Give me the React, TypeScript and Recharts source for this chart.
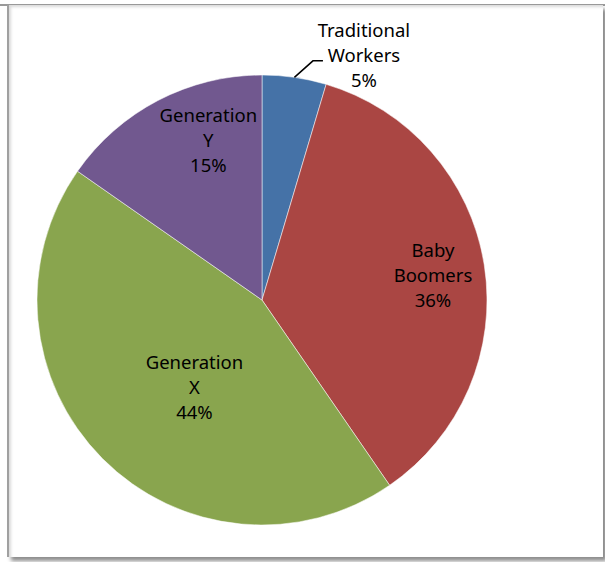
import { Cell, Pie, PieChart } from "recharts";

// Workforce share by generation (labels show the rounded percentage)
const categories = ["Traditional Workers", "Baby Boomers", "Generation X", "Generation Y"];
const shares = [4.6, 35.8, 44.3, 15.3];
const colors = ["#4572A7", "#AA4643", "#89A54E", "#71588F"];

// where each label sits, relative to its slice: angle nudge (deg) and radius fraction
const labelNudge = [-14.3, -0.7, 7.4, -9];
const labelRadius = [1.18, 0.768, 0.49, 0.75];

const data = categories.map((name, i) => ({ name, value: shares[i] }));

const RAD = Math.PI / 180;
const LINE_H = 25;

interface LabelProps {
  cx?: number;
  cy?: number;
  midAngle?: number;
  outerRadius?: number;
  index?: number;
  name?: string;
  percent?: number;
}

function SliceLabel({ cx = 0, cy = 0, midAngle = 0, outerRadius = 0, index = 0, name = "", percent = 0 }: LabelProps) {
  const a = midAngle + labelNudge[index];
  const r = outerRadius * labelRadius[index];
  const x = cx + Math.cos(-a * RAD) * r;
  const y = cy + Math.sin(-a * RAD) * r;
  const lines = [...name.split(" "), `${Math.round(percent * 100)}%`];
  const first = y + 7 - LINE_H * ((lines.length - 1) / 2);
  const outside = labelRadius[index] > 1;
  let leader = null;
  if (outside) {
    const ex = cx + Math.cos(-midAngle * RAD) * outerRadius;
    const ey = cy + Math.sin(-midAngle * RAD) * outerRadius;
    leader = (
      <polyline
        points={`${ex},${ey} ${x - 51},${y + 6} ${x - 41},${y + 6}`}
        fill="none"
        stroke="#000"
        strokeWidth={1.5}
      />
    );
  }
  return (
    <g>
      {leader}
      <text x={x} y={first} textAnchor="middle" fill="#000" fontSize={18.5} fontFamily="'Noto Sans', sans-serif">
        {lines.map((l, i) => (
          <tspan key={i} x={x} dy={i === 0 ? 0 : LINE_H}>
            {l}
          </tspan>
        ))}
      </text>
    </g>
  );
}

export default function App() {
  return (
    <div style={{ position: "absolute", left: 0, top: 0, width: 605, height: 562, background: "#fff", overflow: "hidden" }}>
      <div style={{ position: "absolute", left: 0, top: 4, width: 605, height: 2, background: "#9a9a9a" }} />
      <div
        style={{
          position: "absolute",
          left: 7,
          top: 5,
          width: 594,
          height: 552,
          borderLeft: "2px solid #a0a0a0",
          boxShadow: "inset 2px 2px 3px rgba(0,0,0,0.15), 4px 4px 4px rgba(0,0,0,0.45)",
          background: "#fff",
        }}
      />
      <div style={{ position: "absolute", left: 0, top: 0 }}>
        <PieChart width={605} height={562} margin={{ top: 0, right: 0, bottom: 0, left: 0 }}>
          <Pie
            data={data}
            dataKey="value"
            nameKey="name"
            cx={262}
            cy={300}
            outerRadius={225}
            startAngle={90}
            endAngle={-270}
            stroke="rgba(255,255,255,0.5)"
            strokeWidth={1}
            label={(p: LabelProps) => <SliceLabel {...p} />}
            labelLine={false}
            isAnimationActive={false}
          >
            {data.map((d, i) => (
              <Cell key={d.name} fill={colors[i]} />
            ))}
          </Pie>
        </PieChart>
      </div>
    </div>
  );
}
